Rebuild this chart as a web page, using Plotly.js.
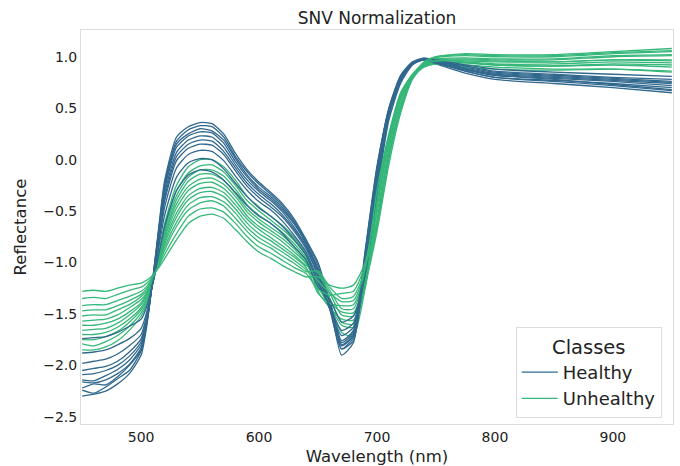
<!DOCTYPE html>
<html>
<head>
<meta charset="utf-8">
<script src="https://cdn.plot.ly/plotly-3.0.1.min.js"></script>
<style>html,body{margin:0;padding:0;background:#fff;}#chart{width:680px;height:466px;}</style>
</head>
<body>
<div id="chart"></div>
<script>
const wavelength = [450,460,470,480,490,500,505,510,515,520,530,540,550,560,570,580,590,600,610,620,630,640,650,660,670,680,690,700,710,720,730,740,750,775,800,850,900,950];

const healthy1 = [-2.30,-2.28,-2.25,-2.18,-2.08,-1.90,-1.60,-1.15,-0.65,-0.20,0.22,0.32,0.36,0.35,0.25,0.06,-0.10,-0.22,-0.32,-0.43,-0.58,-0.78,-1.00,-1.40,-1.90,-1.78,-0.90,-0.08,0.50,0.82,0.95,0.99,0.96,0.88,0.82,0.78,0.73,0.68];
const healthy2 = [-2.24,-2.27,-2.21,-2.13,-2.05,-1.86,-1.58,-1.15,-0.67,-0.23,0.18,0.29,0.33,0.32,0.22,0.03,-0.12,-0.24,-0.34,-0.45,-0.60,-0.79,-1.03,-1.43,-1.84,-1.76,-1.02,-0.22,0.46,0.81,0.94,0.98,0.95,0.86,0.80,0.76,0.72,0.67];
const healthy3 = [-2.22,-2.18,-2.19,-2.11,-2.00,-1.85,-1.57,-1.16,-0.69,-0.26,0.15,0.25,0.30,0.28,0.19,0.01,-0.15,-0.27,-0.36,-0.47,-0.62,-0.81,-1.06,-1.36,-1.80,-1.70,-0.92,-0.10,0.49,0.80,0.94,0.98,0.96,0.90,0.85,0.82,0.79,0.76];
const healthy4 = [-2.16,-2.17,-2.14,-2.08,-1.99,-1.83,-1.56,-1.16,-0.70,-0.29,0.12,0.23,0.27,0.26,0.16,-0.02,-0.17,-0.29,-0.38,-0.49,-0.63,-0.82,-1.10,-1.46,-1.84,-1.73,-1.08,-0.28,0.44,0.79,0.94,0.97,0.93,0.84,0.78,0.74,0.70,0.65];
const healthy5 = [-2.14,-2.15,-2.10,-2.04,-1.95,-1.80,-1.55,-1.16,-0.73,-0.33,0.07,0.19,0.23,0.22,0.12,-0.05,-0.20,-0.31,-0.40,-0.51,-0.66,-0.84,-1.08,-1.40,-1.81,-1.71,-0.95,-0.14,0.47,0.79,0.93,0.98,0.96,0.89,0.84,0.81,0.78,0.75];
const healthy6 = [-2.09,-2.08,-2.05,-2.00,-1.91,-1.77,-1.53,-1.17,-0.75,-0.37,0.03,0.15,0.19,0.18,0.08,-0.08,-0.23,-0.34,-0.43,-0.54,-0.68,-0.85,-1.13,-1.44,-1.78,-1.68,-1.05,-0.25,0.43,0.78,0.93,0.97,0.94,0.86,0.80,0.77,0.74,0.70];
const healthy7 = [-2.05,-2.03,-2.01,-1.96,-1.87,-1.74,-1.52,-1.17,-0.77,-0.40,-0.01,0.11,0.15,0.14,0.05,-0.11,-0.26,-0.37,-0.46,-0.56,-0.70,-0.87,-1.12,-1.38,-1.76,-1.66,-0.88,-0.06,0.48,0.79,0.93,0.98,0.95,0.88,0.83,0.80,0.77,0.74];
const healthy8 = [-1.98,-1.96,-1.94,-1.89,-1.81,-1.70,-1.50,-1.18,-0.81,-0.46,-0.08,0.05,0.09,0.08,-0.01,-0.16,-0.30,-0.41,-0.49,-0.60,-0.74,-0.90,-1.17,-1.45,-1.71,-1.63,-1.10,-0.30,0.42,0.77,0.93,0.98,0.96,0.91,0.86,0.83,0.80,0.78];
const healthy9 = [-1.88,-1.87,-1.85,-1.80,-1.74,-1.64,-1.47,-1.19,-0.85,-0.54,-0.17,-0.03,0.01,0.00,-0.09,-0.23,-0.36,-0.47,-0.55,-0.65,-0.78,-0.93,-1.20,-1.42,-1.66,-1.59,-0.98,-0.18,0.43,0.76,0.93,0.97,0.94,0.87,0.82,0.79,0.76,0.72];
const healthy10 = [-1.74,-1.73,-1.72,-1.68,-1.62,-1.55,-1.42,-1.20,-0.92,-0.65,-0.30,-0.15,-0.10,-0.12,-0.20,-0.32,-0.45,-0.55,-0.62,-0.72,-0.85,-0.98,-1.24,-1.36,-1.58,-1.52,-1.12,-0.32,0.38,0.74,0.92,0.98,0.97,0.92,0.88,0.85,0.83,0.81];

const unhealthy1 = [-1.85,-1.85,-1.82,-1.76,-1.66,-1.52,-1.40,-1.20,-0.92,-0.62,-0.25,-0.07,0.00,0.00,-0.07,-0.20,-0.36,-0.46,-0.55,-0.64,-0.76,-0.92,-1.20,-1.45,-1.68,-1.72,-1.25,-0.62,0.02,0.50,0.80,0.90,0.93,0.92,0.90,0.88,0.88,0.85];
const unhealthy2 = [-1.79,-1.81,-1.77,-1.71,-1.62,-1.49,-1.38,-1.19,-0.93,-0.65,-0.30,-0.13,-0.06,-0.05,-0.12,-0.25,-0.40,-0.50,-0.59,-0.68,-0.79,-0.94,-1.24,-1.42,-1.61,-1.63,-1.22,-0.48,0.14,0.58,0.80,0.91,0.94,0.94,0.92,0.91,0.92,0.90];
const unhealthy3 = [-1.75,-1.75,-1.72,-1.67,-1.58,-1.46,-1.36,-1.19,-0.94,-0.68,-0.35,-0.17,-0.10,-0.10,-0.16,-0.29,-0.44,-0.54,-0.62,-0.71,-0.82,-0.96,-1.15,-1.35,-1.58,-1.60,-1.21,-0.70,-0.05,0.45,0.78,0.92,0.96,0.97,0.96,0.95,0.97,0.96];
const unhealthy4 = [-1.70,-1.70,-1.68,-1.63,-1.55,-1.44,-1.34,-1.18,-0.95,-0.71,-0.39,-0.21,-0.14,-0.14,-0.20,-0.33,-0.48,-0.58,-0.66,-0.74,-0.85,-0.98,-1.28,-1.44,-1.55,-1.56,-1.19,-0.40,0.20,0.62,0.82,0.90,0.93,0.90,0.88,0.87,0.88,0.86];
const unhealthy5 = [-1.66,-1.65,-1.64,-1.59,-1.51,-1.41,-1.32,-1.17,-0.96,-0.74,-0.43,-0.26,-0.19,-0.18,-0.24,-0.36,-0.51,-0.61,-0.69,-0.77,-0.87,-1.00,-1.12,-1.30,-1.51,-1.52,-1.17,-0.58,0.06,0.52,0.80,0.93,0.97,0.98,0.97,0.97,1.00,1.01];
const unhealthy6 = [-1.61,-1.61,-1.59,-1.55,-1.48,-1.39,-1.30,-1.17,-0.98,-0.76,-0.47,-0.30,-0.23,-0.22,-0.28,-0.40,-0.55,-0.65,-0.72,-0.80,-0.90,-1.01,-1.22,-1.38,-1.48,-1.49,-1.15,-0.35,0.22,0.63,0.82,0.92,0.95,0.94,0.92,0.91,0.93,0.92];
const unhealthy7 = [-1.57,-1.56,-1.55,-1.51,-1.44,-1.36,-1.29,-1.16,-0.99,-0.79,-0.52,-0.35,-0.28,-0.27,-0.32,-0.44,-0.58,-0.68,-0.76,-0.84,-0.93,-1.03,-1.10,-1.27,-1.45,-1.45,-1.13,-0.66,0.00,0.48,0.79,0.94,0.99,1.01,1.00,1.00,1.03,1.05];
const unhealthy8 = [-1.52,-1.51,-1.51,-1.46,-1.41,-1.33,-1.27,-1.15,-1.00,-0.82,-0.56,-0.39,-0.32,-0.31,-0.36,-0.48,-0.62,-0.72,-0.79,-0.87,-0.95,-1.05,-1.30,-1.40,-1.42,-1.41,-1.11,-0.44,0.16,0.60,0.81,0.92,0.96,0.96,0.95,0.95,0.97,0.97];
const unhealthy9 = [-1.47,-1.46,-1.46,-1.42,-1.37,-1.31,-1.25,-1.15,-1.01,-0.85,-0.61,-0.44,-0.37,-0.36,-0.41,-0.52,-0.66,-0.76,-0.83,-0.90,-0.98,-1.07,-1.18,-1.30,-1.38,-1.37,-1.08,-0.52,0.10,0.55,0.80,0.93,0.98,0.99,0.98,0.98,1.01,1.02];
const unhealthy10 = [-1.42,-1.41,-1.41,-1.37,-1.33,-1.28,-1.23,-1.14,-1.02,-0.88,-0.65,-0.49,-0.42,-0.40,-0.45,-0.57,-0.70,-0.80,-0.86,-0.94,-1.01,-1.09,-1.08,-1.24,-1.35,-1.33,-1.06,-0.30,0.25,0.65,0.83,0.94,1.00,1.03,1.02,1.02,1.05,1.08];
const unhealthy11 = [-1.35,-1.34,-1.35,-1.31,-1.27,-1.24,-1.20,-1.13,-1.03,-0.92,-0.72,-0.55,-0.48,-0.47,-0.51,-0.62,-0.75,-0.85,-0.91,-0.98,-1.05,-1.11,-1.26,-1.32,-1.30,-1.28,-1.03,-0.60,0.04,0.50,0.79,0.92,0.96,0.95,0.93,0.93,0.95,0.94];
const unhealthy12 = [-1.28,-1.27,-1.28,-1.25,-1.22,-1.20,-1.17,-1.12,-1.05,-0.96,-0.78,-0.62,-0.55,-0.53,-0.57,-0.68,-0.80,-0.90,-0.96,-1.03,-1.09,-1.14,-1.14,-1.22,-1.25,-1.22,-1.00,-0.42,0.18,0.60,0.81,0.95,1.00,1.02,1.01,1.01,1.04,1.06];

const classNames = ["Healthy", "Unhealthy"];
const xTicks = [500, 600, 700, 800, 900];
const yTicks = [-2.5, -2.0, -1.5, -1.0, -0.5, 0.0, 0.5, 1.0];

const healthySeries = [healthy1,healthy2,healthy3,healthy4,healthy5,healthy6,healthy7,healthy8,healthy9,healthy10];
const unhealthySeries = [unhealthy1,unhealthy2,unhealthy3,unhealthy4,unhealthy5,unhealthy6,unhealthy7,unhealthy8,unhealthy9,unhealthy10,unhealthy11,unhealthy12];

const colors = {Healthy: "#31688e", Unhealthy: "#35b779"};
const FONT = "DejaVu Sans, Verdana, sans-serif";

function mk(y, cls, first) {
  return {
    type: "scatter", mode: "lines", x: wavelength, y: y,
    name: cls, legendgroup: cls, showlegend: first,
    line: {color: colors[cls], width: 1.3, shape: "spline", smoothing: 0.6},
    hoverinfo: "skip"
  };
}
const traces = [];
const n = Math.max(healthySeries.length, unhealthySeries.length);
for (let i = 0; i < n; i++) {
  if (i < healthySeries.length) traces.push(mk(healthySeries[i], classNames[0], i === 0));
  if (i < unhealthySeries.length) traces.push(mk(unhealthySeries[i], classNames[1], i === 0));
}

const axisCommon = {
  showgrid: false, zeroline: false, showline: true, mirror: true,
  linecolor: "#dcdcdc", linewidth: 1, ticks: "",
  tickfont: {family: FONT, size: 14, color: "#222"}
};

const layout = {
  width: 680, height: 466,
  margin: {l: 81, r: 7, t: 30, b: 42},
  paper_bgcolor: "#fff", plot_bgcolor: "#fff",
  font: {family: FONT, color: "#222"},
  title: {text: "SNV Normalization", x: 0.5, xref: "paper", y: 0.962, yref: "container", yanchor: "middle",
          font: {family: FONT, size: 17, color: "#222"}},
  xaxis: Object.assign({}, axisCommon, {
    range: [449, 951], tickvals: xTicks, ticktext: xTicks.map(String),
    title: {text: "Wavelength (nm)", font: {family: FONT, size: 16.5, color: "#222"}, standoff: 6}
  }),
  yaxis: Object.assign({}, axisCommon, {
    range: [-2.57, 1.26], tickvals: yTicks, tickformat: ".1f",
    title: {text: "Reflectance", font: {family: FONT, size: 16.5, color: "#222"}, standoff: 12}
  }),
  showlegend: true,
  legend: {
    x: 0.981, xanchor: "right", y: 0.014, yanchor: "bottom",
    bgcolor: "rgba(255,255,255,0.9)", bordercolor: "#dcdcdc", borderwidth: 1,
    font: {family: FONT, size: 18, color: "#222"},
    title: {text: "Classes", side: "top center", font: {family: FONT, size: 19.5, color: "#222"}},
    traceorder: "normal", itemwidth: 36, tracegroupgap: 0
  }
};

Plotly.newPlot("chart", traces, layout, {displayModeBar: false, staticPlot: true});
</script>
</body>
</html>
